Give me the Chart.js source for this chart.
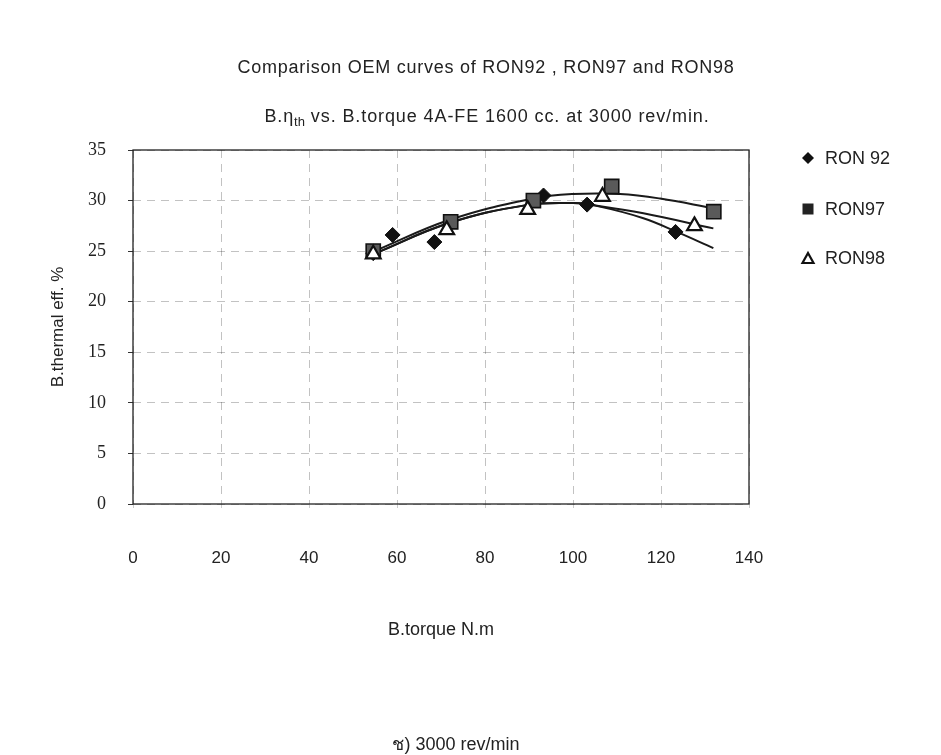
<!DOCTYPE html>
<html lang="en">
<head>
<meta charset="UTF-8" />
<title>RON92 / RON97 / RON98 - B.thermal eff. vs B.torque</title>
<script src="https://cdn.jsdelivr.net/npm/chart.js@4.4.1/dist/chart.umd.min.js"></script>
<style>
  html,body{margin:0;padding:0;background:#fff}
  body{width:941px;height:755px;position:relative;overflow:hidden;font-family:'Liberation Sans',Arial,sans-serif;color:#222}
  #chart{position:absolute;left:0;top:0}
  .txt{position:absolute;white-space:nowrap;transform:translate(-50%,-50%)}
  .t1{left:486px;top:67px;font-size:18px;letter-spacing:.75px}
  .t2{left:487px;top:117px;font-size:18px;letter-spacing:.9px}
  .t2 sub{font-size:13px;vertical-align:-4px;letter-spacing:0}
  .cap{left:456px;top:743px;font-size:18px}
</style>
</head>
<body>
  <canvas id="chart" width="941" height="755"></canvas>
  <div class="txt t1">Comparison OEM curves of RON92 , RON97 and RON98</div>
  <div class="txt t2">B.&eta;<sub>th</sub> vs. B.torque 4A-FE 1600 cc. at 3000 rev/min.</div>
  <div class="txt cap">ช) 3000 rev/min</div>

<script>
  // measured points (torque N.m / brake thermal efficiency %)
  const ron92X = [54.6, 59.0, 68.5, 93.3, 103.2, 123.3];
  const ron92Y = [24.8, 26.6, 25.9, 30.5, 29.6, 26.9];
  const ron97X = [54.6, 72.2, 91.0, 108.8, 132.0];
  const ron97Y = [25.0, 27.9, 30.0, 31.4, 28.9];
  const ron98X = [54.6, 71.3, 89.7, 106.7, 127.6];
  const ron98Y = [24.7, 27.1, 29.1, 30.4, 27.5];

  // trend curves through each series
  const fit92X = [54.6, 72.0, 89.4, 100.0, 106.1, 116.0, 123.6, 131.9];
  const fit92Y = [24.7, 27.8, 29.55, 29.75, 29.4, 28.25, 26.9, 25.3];
  const fit97X = [54.6, 72.0, 90.8, 100.0, 110.7, 119.8, 131.7];
  const fit97Y = [24.95, 28.1, 30.2, 30.65, 30.65, 30.2, 29.25];
  const fit98X = [54.6, 72.0, 89.4, 100.0, 104.6, 116.0, 131.9];
  const fit98Y = [24.7, 27.8, 29.55, 29.75, 29.55, 28.75, 27.25];

  const seriesNames = ['RON 92', 'RON97', 'RON98'];
  const xTicks = [0, 20, 40, 60, 80, 100, 120, 140];
  const yTicks = [0, 5, 10, 15, 20, 25, 30, 35];

  const sans = "'Liberation Sans', Arial, sans-serif";
  const pts = (xs, ys) => xs.map((x, i) => ({ x, y: ys[i] }));

  const fitLine = (xs, ys) => ({
    data: pts(xs, ys), showLine: true, tension: 0.4,
    borderColor: '#1a1a1a', borderWidth: 2, pointRadius: 0, pointHoverRadius: 0
  });

  // plot frame on all four sides
  const frame = {
    id: 'frame',
    afterDatasetsDraw(chart) {
      const { ctx, chartArea: a } = chart;
      ctx.save();
      ctx.strokeStyle = '#222';
      ctx.lineWidth = 1.3;
      ctx.strokeRect(a.left, a.top, a.right - a.left, a.bottom - a.top);
      ctx.restore();
    }
  };

  // legend on the right, markers drawn like the series points
  const sideLegend = {
    id: 'sideLegend',
    afterDraw(chart) {
      const c = chart.ctx;
      const mx = 808, tx = 825, rows = [158, 209, 258];
      c.save();
      c.font = '18px ' + sans;
      c.textBaseline = 'middle';
      seriesNames.forEach((name, i) => {
        const y = rows[i];
        c.beginPath();
        if (i === 0) {
          c.moveTo(mx, y - 6); c.lineTo(mx + 6, y); c.lineTo(mx, y + 6); c.lineTo(mx - 6, y);
          c.closePath(); c.fillStyle = '#111'; c.fill();
        } else if (i === 1) {
          c.fillStyle = '#222'; c.fillRect(mx - 5.5, y - 5.5, 11, 11);
        } else {
          c.moveTo(mx, y - 5); c.lineTo(mx + 5.5, y + 5); c.lineTo(mx - 5.5, y + 5); c.closePath();
          c.fillStyle = '#fff'; c.fill(); c.lineWidth = 2.2; c.strokeStyle = '#111'; c.stroke();
        }
        c.fillStyle = '#222';
        c.fillText(name, tx, y + 1);
      });
      c.restore();
    }
  };

  new Chart(document.getElementById('chart'), {
    type: 'scatter',
    data: {
      datasets: [
        { label: seriesNames[2], data: pts(ron98X, ron98Y), pointStyle: 'triangle', pointRadius: 8.5,
          backgroundColor: '#fff', borderColor: '#111', borderWidth: 2.2 },
        { label: seriesNames[1], data: pts(ron97X, ron97Y), pointStyle: 'rect', pointRadius: 10,
          backgroundColor: '#5a5a5a', borderColor: '#111', borderWidth: 1.6 },
        { label: seriesNames[0], data: pts(ron92X, ron92Y), pointStyle: 'rectRot', pointRadius: 7.5,
          backgroundColor: '#111', borderColor: '#111', borderWidth: 1 },
        fitLine(fit92X, fit92Y),
        fitLine(fit97X, fit97Y),
        fitLine(fit98X, fit98Y)
      ]
    },
    options: {
      responsive: false,
      animation: false,
      layout: { padding: { left: 20, right: 192, top: 150, bottom: 111 } },
      plugins: { legend: { display: false }, tooltip: { enabled: false } },
      scales: {
        x: {
          type: 'linear', min: 0, max: 140,
          afterBuildTicks: s => { s.ticks = xTicks.map(v => ({ value: v })); },
          afterFit: s => { s.height = 140; },
          ticks: { padding: 40, color: '#222', font: { family: sans, size: 17 } },
          grid: { color: 'rgba(0,0,0,0.24)', lineWidth: 1, tickLength: 4, tickColor: 'rgba(0,0,0,0.2)' },
          border: { display: false, dash: [8, 6] },
          title: { display: true, text: 'B.torque N.m', color: '#222',
                   font: { family: sans, size: 18 }, padding: { top: 0, bottom: 3 } }
        },
        y: {
          type: 'linear', min: 0, max: 35,
          afterBuildTicks: s => { s.ticks = yTicks.map(v => ({ value: v })); },
          afterFit: s => { s.width = 113; },
          ticks: { padding: 22, color: '#222', font: { family: "'Liberation Serif', 'Times New Roman', serif", size: 18 } },
          grid: { color: 'rgba(0,0,0,0.24)', lineWidth: 1, tickLength: 5, tickColor: '#333', tickBorderDash: [] },
          border: { display: false, dash: [8, 6] },
          title: { display: true, text: 'B.thermal eff. %', color: '#222',
                   font: { family: sans, size: 17 }, padding: { top: 28, bottom: 0 } }
        }
      }
    },
    plugins: [frame, sideLegend]
  });
</script>
</body>
</html>
